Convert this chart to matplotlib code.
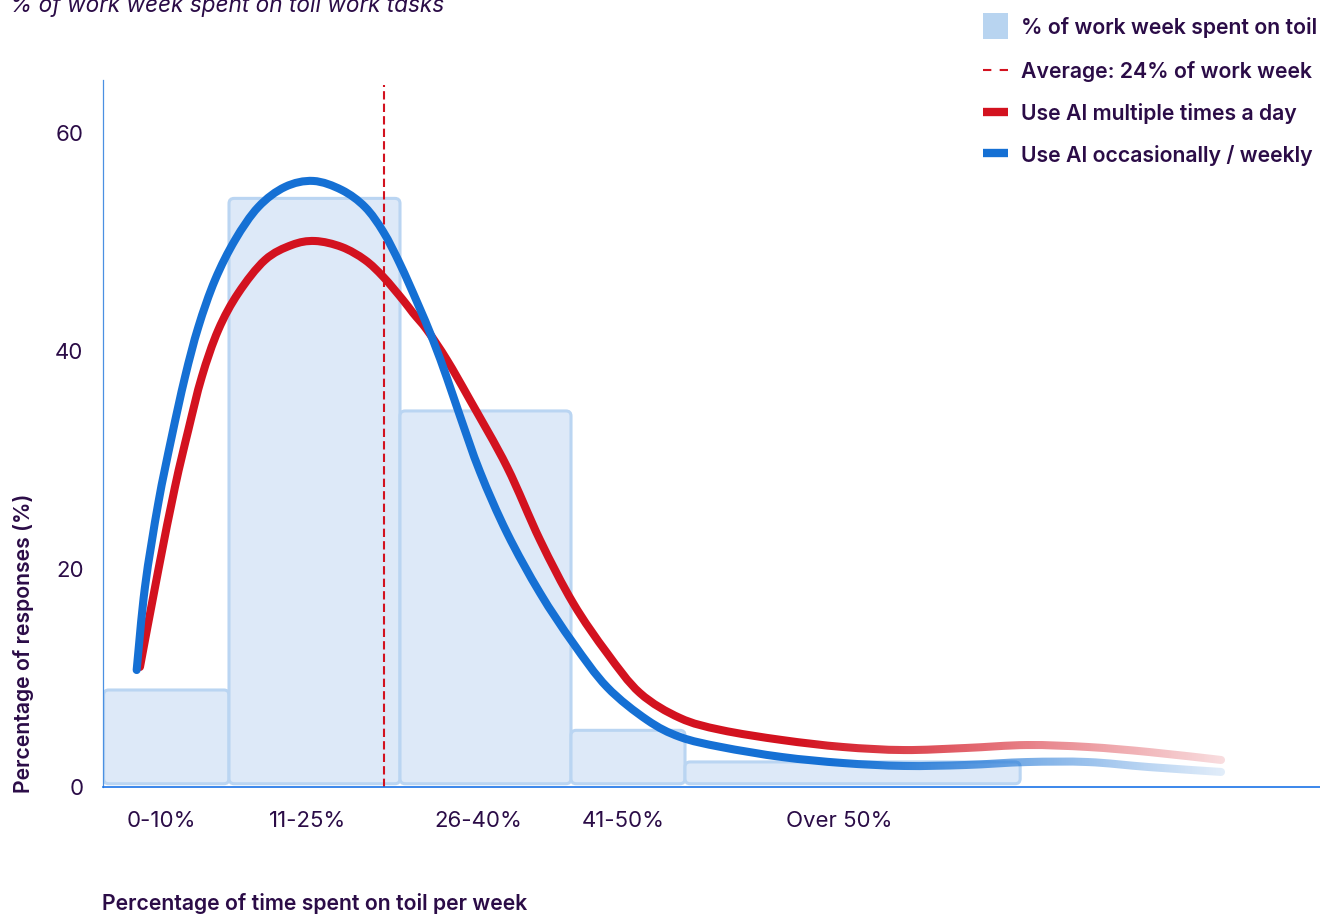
import numpy as np
import matplotlib
matplotlib.use("Agg")
import matplotlib.pyplot as plt
from matplotlib.patches import FancyBboxPatch, Rectangle, PathPatch
from matplotlib.lines import Line2D
from matplotlib.path import Path

plt.rcParams['font.family'] = ['Inter', 'DejaVu Sans']

# ---------------- data ----------------
categories = ["0-10%", "11-25%", "26-40%", "41-50%", "Over 50%"]
bin_edges = [-1, 10, 25, 40, 50, 79.4]
bar_values = [8.9, 54.0, 34.5, 5.2, 2.3]
average = 23.6

daily_x = [2.19, 3.80, 5.26, 6.43, 7.61, 9.06, 10.82, 13.16, 15.50, 17.54, 19.89, 21.93,
           23.54, 25.26, 26.14, 27.37, 29.12, 31.14, 34.39, 37.28, 40.18, 43.16, 46.05,
           49.56, 53.16, 58.51, 63.86, 69.21, 74.65, 80.00, 85.35, 90.70, 97.02]
daily_y = [11.01, 19.91, 27.52, 32.75, 37.61, 41.93, 45.32, 48.35, 49.72, 50.09, 49.54, 48.35,
           46.79, 44.68, 43.49, 41.93, 39.17, 35.50, 29.36, 22.66, 16.88, 12.29, 8.62,
           6.33, 5.23, 4.31, 3.67, 3.39, 3.58, 3.85, 3.67, 3.21, 2.48]

weekly_x = [1.90, 2.63, 3.80, 4.97, 6.14, 7.31, 8.77, 10.53, 12.57, 14.91, 17.39, 19.89, 21.93,
            23.54, 25.00, 26.49, 27.89, 29.12, 30.26, 32.02, 34.39, 37.28, 40.18, 43.16, 46.67,
            49.56, 53.16, 58.51, 63.86, 69.21, 74.65, 80.00, 85.35, 90.70, 97.02]
weekly_y = [10.73, 18.35, 26.06, 32.11, 37.61, 42.20, 46.51, 50.18, 53.21, 55.05, 55.60, 54.77, 53.21,
            50.92, 47.98, 44.50, 41.01, 37.52, 34.04, 28.90, 23.30, 17.80, 13.21, 9.17, 6.15,
            4.59, 3.67, 2.75, 2.20, 1.93, 2.02, 2.29, 2.29, 1.83, 1.38]

legend_labels = ["% of work week spent on toil", "Average: 24% of work week",
                 "Use AI multiple times a day", "Use AI occasionally / weekly"]

# ---------------- style ----------------
TXT = '#2b0c47'
RED = '#d3121f'
BLUE = '#1570d4'
BAR_FILL = '#dde9f8'
BAR_EDGE = '#bad5f2'
W, H = 1320, 914

fig = plt.figure(figsize=(W / 100, H / 100), dpi=100)
ax = fig.add_axes([103 / W, 127 / H, (W - 103) / W, (834 - 127) / H])
ax.set_xlim(-1.053, 105.7)
ax.set_ylim(0, 64.86)

for s in ['top', 'right']:
    ax.spines[s].set_visible(False)
ax.spines['left'].set_color('#4a90e2')
ax.spines['left'].set_linewidth(0.9)
ax.spines['bottom'].set_color('#1a73e8')
ax.spines['bottom'].set_linewidth(1.2)

# bars with rounded corners
for i, v in enumerate(bar_values):
    x0, x1 = bin_edges[i], bin_edges[i + 1]
    p = FancyBboxPatch((x0, 0.3), x1 - x0, v - 0.3,
                       boxstyle="round,pad=0,rounding_size=0.45",
                       mutation_aspect=1.05,
                       facecolor=BAR_FILL, edgecolor=BAR_EDGE, linewidth=2.2, zorder=1)
    ax.add_patch(p)

# average line
ax.plot([average, average], [0, 64.4], color=RED, lw=1.5, dashes=(4, 2), zorder=2)


def smooth_path(xs, ys):
    P = np.column_stack([xs, ys]).astype(float)
    n = len(P)
    verts = [P[0]]
    codes = [Path.MOVETO]
    for i in range(n - 1):
        p0 = P[i - 1] if i > 0 else P[i]
        p1 = P[i]
        p2 = P[i + 1]
        p3 = P[i + 2] if i + 2 < n else P[i + 1]
        verts += [p1 + (p2 - p0) / 6.0, p2 - (p3 - p1) / 6.0, p2]
        codes += [Path.CURVE4] * 3
    return Path(verts, codes)


class TailFade:
    """Fade the alpha of the rendered curve towards its right end."""

    def __init__(self, x_left, x_right, fade_start, a_end):
        self.xl, self.xr, self.fs, self.ae = x_left, x_right, fade_start, a_end

    def __call__(self, im, dpi):
        im = im.copy()
        w = im.shape[1]
        xs = np.linspace(self.xl, self.xr, w)
        a = 1 - (1 - self.ae) * (xs - self.fs) / (self.xr - self.fs)
        a = np.clip(a, self.ae, 1.0)
        im[..., 3] *= a[None, :]
        return im, 0, 0


def draw_curve(xs, ys, color, z, fade_start, a_end, lw=5.8):
    patch = PathPatch(smooth_path(xs, ys), fill=False, edgecolor=color, lw=lw,
                      capstyle='round', joinstyle='round', zorder=z)
    pad = 0.35
    patch.set_agg_filter(TailFade(xs[0] - pad, xs[-1] + pad, fade_start, a_end))
    ax.add_patch(patch)


draw_curve(daily_x, daily_y, RED, 3, 60.0, 0.14)
draw_curve(weekly_x, weekly_y, BLUE, 4, 63.0, 0.12)

# ticks
ticks = [bin_edges[i] + 0.46 * (bin_edges[i + 1] - bin_edges[i]) for i in range(len(categories))]
ax.set_xticks(ticks)
ax.set_xticklabels(categories, fontsize=16, color=TXT)
ax.set_yticks([0, 20, 40, 60])
ax.set_yticklabels(['0', '20', '40', '60'], fontsize=16, color=TXT)
ax.tick_params(axis='x', length=0, pad=17)
ax.tick_params(axis='y', length=0, pad=14)

# labels
fig.text(102 / W, 1 - 910 / H, "Percentage of time spent on toil per week",
         fontsize=15.3, fontweight='semibold', color=TXT, va='baseline', ha='left')
fig.text(24 / W, 1 - 793 / H, "Percentage of responses (%)", rotation=90,
         fontsize=15.3, fontweight='semibold', color=TXT, va='bottom', ha='center')
fig.text(10 / W, 1 - 12 / H, "% of work week spent on toil work tasks",
         fontsize=16.3, style='italic', color=TXT, va='baseline', ha='left')


# legend (manual)
def fx(px):
    return px / W


def fy(py):
    return 1 - py / H


fig.add_artist(Rectangle((fx(983), fy(39)), 25 / W, 26 / H, transform=fig.transFigure,
                         facecolor='#b8d4f0', edgecolor='none'))
fig.add_artist(Line2D([fx(983), fx(1008)], [fy(70), fy(70)], transform=fig.transFigure,
                      color=RED, lw=1.5, dashes=(4, 4)))
fig.add_artist(Line2D([fx(983), fx(1008)], [fy(112), fy(112)], transform=fig.transFigure,
                      color=RED, lw=6, solid_capstyle='butt'))
fig.add_artist(Line2D([fx(983), fx(1008)], [fy(153), fy(153)], transform=fig.transFigure,
                      color=BLUE, lw=6, solid_capstyle='butt'))
for lab, yy in zip(legend_labels, [28, 71, 114, 155]):
    fig.text(fx(1021), fy(yy), lab, fontsize=15.3, fontweight='semibold', color=TXT,
             va='center', ha='left')

fig.savefig('out.png', dpi=100)
